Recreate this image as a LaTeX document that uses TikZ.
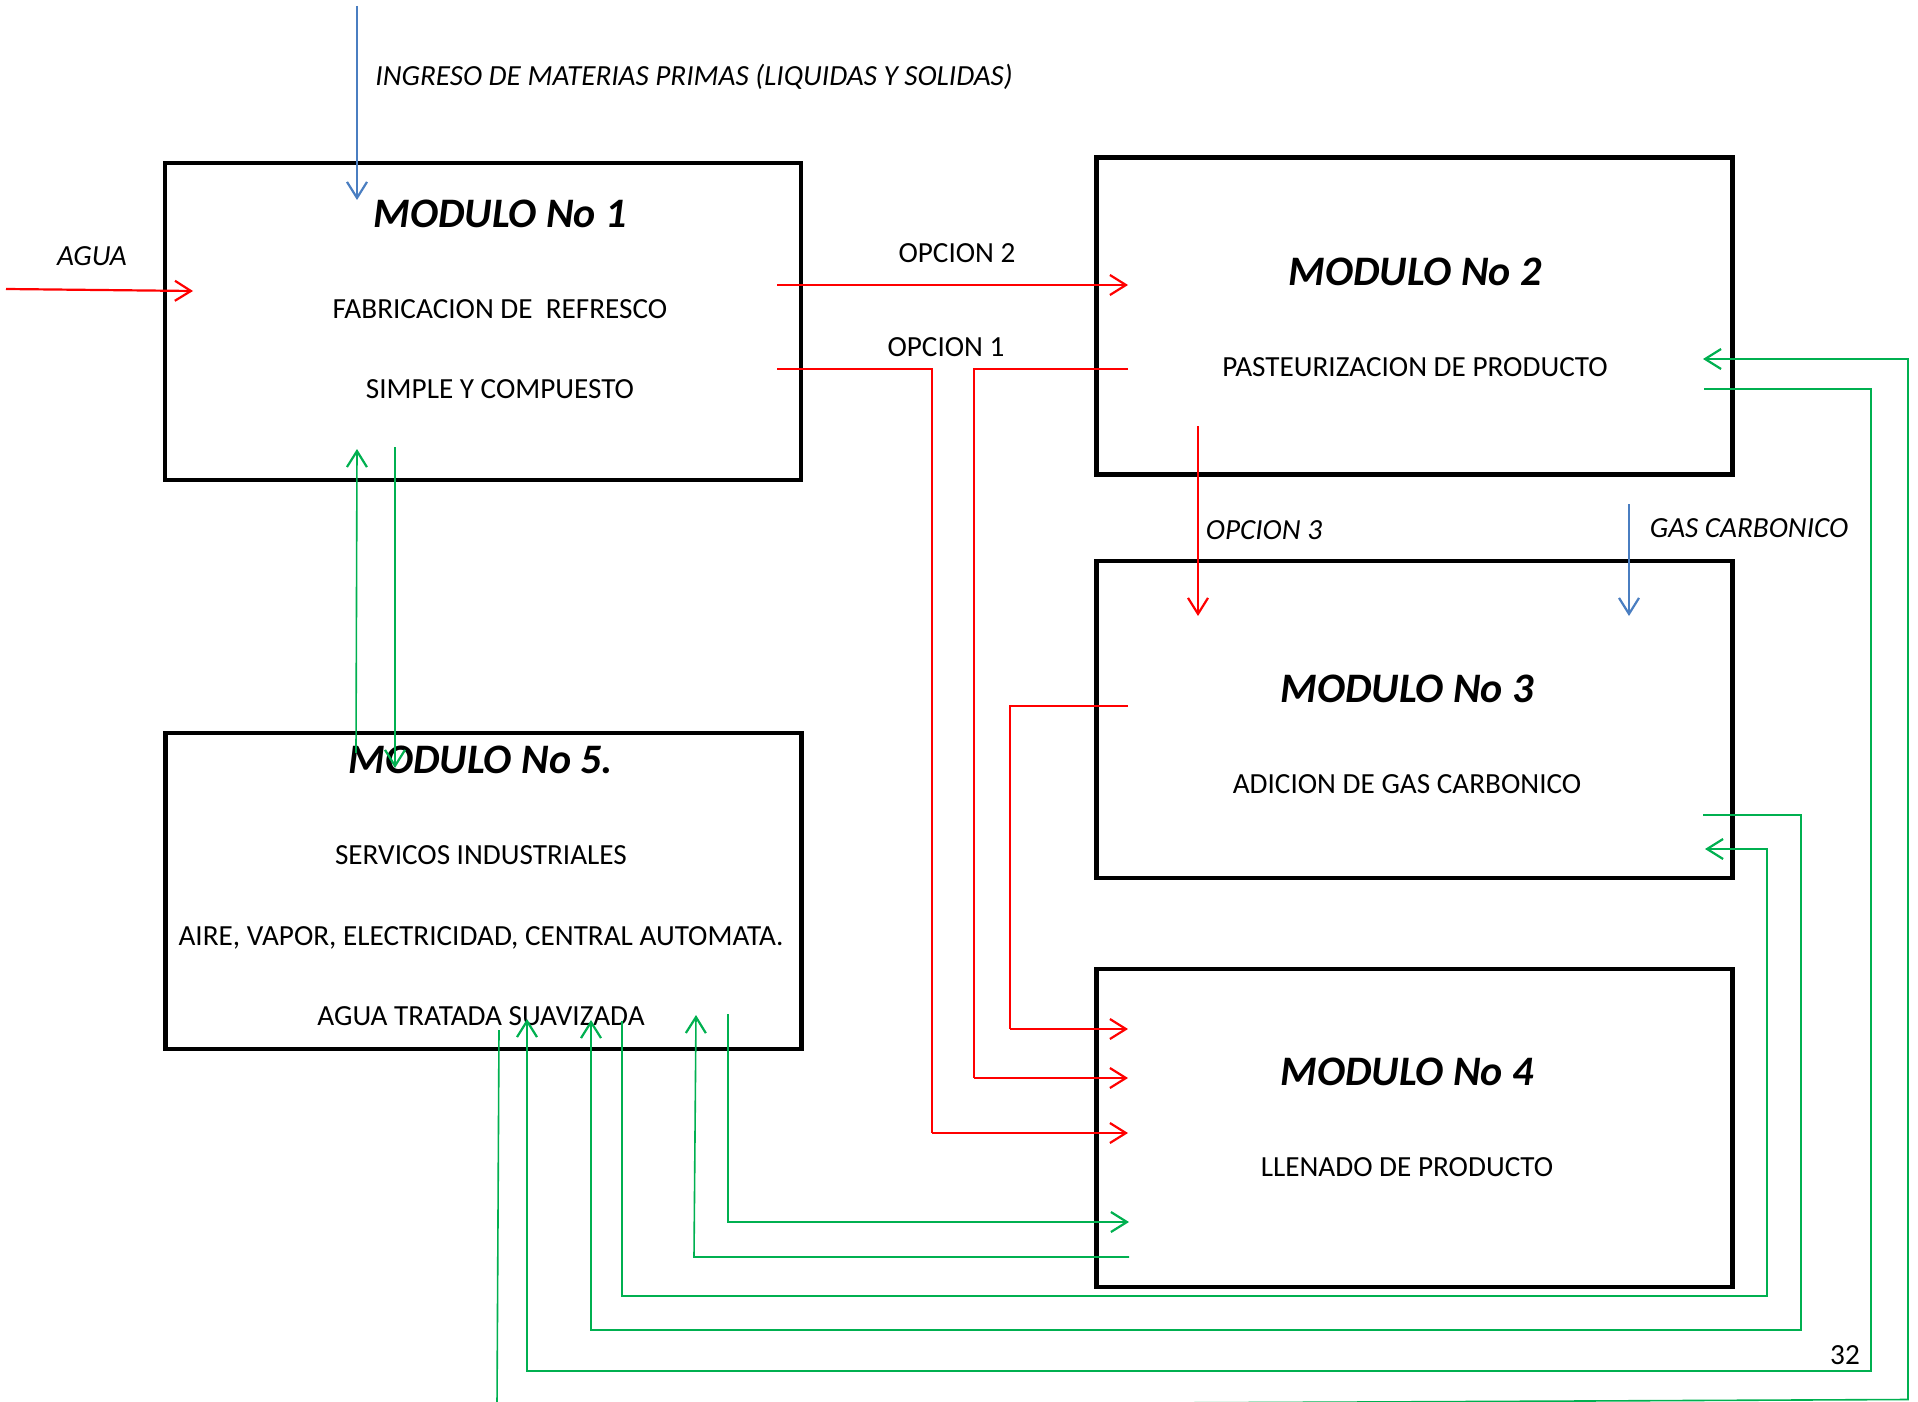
\documentclass[tikz,border=0pt]{standalone}
\usepackage{fontspec}
\setmainfont{Carlito}
\usetikzlibrary{arrows.meta}
\definecolor{myred}{RGB}{255,0,0}
\definecolor{mygreen}{RGB}{0,176,80}
\definecolor{myblue}{RGB}{74,126,193}
\begin{document}
\begin{tikzpicture}[x=0.5pt,y=-0.5pt,
  modbox/.style={draw=black, line width=2.1pt, inner sep=0pt, minimum width=318pt, minimum height=158.5pt},
  body/.style={font=\fontsize{14.6}{16}\selectfont, anchor=base, inner sep=0pt},
  ital/.style={font=\fontsize{14.6}{16}\selectfont\itshape, anchor=base, inner sep=0pt},
  ttl/.style={font=\fontsize{21}{24}\selectfont\bfseries\itshape, anchor=base, inner sep=0pt},
  tip/.style={-{Straight Barb[length=8pt,width=10pt,line width=1.1pt]}},
  redln/.style={draw=myred, line width=0.75pt},
  redar/.style={draw=myred, line width=1.1pt, tip},
  grnln/.style={draw=mygreen, line width=0.75pt},
  grnar/.style={draw=mygreen, line width=0.8pt, tip},
  bluar/.style={draw=myblue, line width=0.8pt, tip}]
\useasboundingbox[fill=white] (0,0) rectangle (1918,1402);

% boxes
\node[modbox] (m1) at (483,321.5) {};
\node[modbox] (m2) at (1414.5,316) {};
\node[modbox] (m3) at (1414.5,719.5) {};
\node[modbox, minimum height=159pt] (m4) at (1414.5,1128) {};
\node[modbox, minimum height=158pt] (m5) at (483.5,891) {};

% texts
\node[ital, anchor=base west] (ingreso) at (375,86) {INGRESO DE MATERIAS PRIMAS (LIQUIDAS Y SOLIDAS)};
\node[ital] (agua) at (92,265) {AGUA};
\node[ttl] (t1) at (500,227.5) {MODULO No 1};
\node[body] (b1a) at (500,318) {FABRICACION DE\ \ REFRESCO};
\node[body] (b1b) at (500,398) {SIMPLE Y COMPUESTO};
\node[body] (op2) at (957,263) {OPCION 2};
\node[body] (op1) at (946,356) {OPCION 1};
\node[ttl] (t2) at (1415,285.5) {MODULO No 2};
\node[body] (b2) at (1415,376) {PASTEURIZACION DE PRODUCTO};
\node[ital] (op3) at (1264,539) {OPCION 3};
\node[ital] (gas) at (1749,537) {GAS CARBONICO};
\node[ttl] (t3) at (1407,702.5) {MODULO No 3};
\node[body] (b3) at (1407,793) {ADICION DE GAS CARBONICO};
\node[ttl] (t4) at (1407,1085.5) {MODULO No 4};
\node[body] (b4) at (1407,1176) {LLENADO DE PRODUCTO};
\node[ttl] (t5) at (481,773.5) {MODULO No 5.};
\node[body] (b5a) at (481,864) {SERVICOS INDUSTRIALES};
\node[body] (b5b) at (481,945) {AIRE, VAPOR, ELECTRICIDAD, CENTRAL AUTOMATA.};
\node[body] (b5c) at (481,1025) {AGUA TRATADA SUAVIZADA};
\node[body] (pg) at (1845,1364) {32};

% coordinates
\coordinate (bi0) at (357,6);   \coordinate (bi1) at (357,200);
\coordinate (ag0) at (6,289);   \coordinate (ag1) at (193,291);
\coordinate (o2a) at (777,285); \coordinate (o2b) at (1128,285);
\coordinate (o1a) at (777,369); \coordinate (o1b) at (932,369); \coordinate (o1c) at (932,1133); \coordinate (o1d) at (1128,1133);
\coordinate (r2a) at (1128,369); \coordinate (r2b) at (974,369); \coordinate (r2c) at (974,1078); \coordinate (r2d) at (1128,1078);
\coordinate (r3a) at (1128,706); \coordinate (r3b) at (1010,706); \coordinate (r3c) at (1010,1029); \coordinate (r3d) at (1128,1029);
\coordinate (o3a) at (1198,426); \coordinate (o3b) at (1198,616);
\coordinate (gsa) at (1629,504); \coordinate (gsb) at (1629,616);
\coordinate (g1a) at (356,753); \coordinate (g1b) at (357,449);
\coordinate (g2a) at (395,447); \coordinate (g2b) at (395,768);
\coordinate (g3a) at (499,1030); \coordinate (g3b) at (497,1406); \coordinate (g3c) at (1908,1399.5); \coordinate (g3d) at (1908,359); \coordinate (g3e) at (1703,359);
\coordinate (g4a) at (1704,389); \coordinate (g4b) at (1871,389); \coordinate (g4c) at (1871,1371); \coordinate (g4d) at (527,1371); \coordinate (g4e) at (527,1019);
\coordinate (g5a) at (1703,815); \coordinate (g5b) at (1801,815); \coordinate (g5c) at (1801,1330); \coordinate (g5d) at (591,1330); \coordinate (g5e) at (591,1020);
\coordinate (g6a) at (622,1021); \coordinate (g6b) at (622,1296); \coordinate (g6c) at (1767,1296); \coordinate (g6d) at (1767,849); \coordinate (g6e) at (1705,849);
\coordinate (g7a) at (728,1014); \coordinate (g7b) at (728,1222); \coordinate (g7c) at (1129,1222);
\coordinate (g8a) at (1129,1257); \coordinate (g8b) at (694,1257); \coordinate (g8c) at (696,1015);

% blue
\draw[bluar] (bi0) -- (bi1);
\draw[bluar] (gsa) -- (gsb);
% red
\draw[redar] (ag0) -- (ag1);
\draw[redar] (o2a) -- (o2b);
\draw[redln] (o1a) -- (o1b) -- (o1c);
\draw[redar] (o1c) -- (o1d);
\draw[redln] (r2a) -- (r2b) -- (r2c);
\draw[redar] (r2c) -- (r2d);
\draw[redln] (r3a) -- (r3b) -- (r3c);
\draw[redar] (r3c) -- (r3d);
\draw[redln, tip] (o3a) -- (o3b);
% green
\draw[grnar] (g1a) -- (g1b);
\draw[grnar] (g2a) -- (g2b);
\draw[grnar] (g3a) -- (g3b) -- (g3c) -- (g3d) -- (g3e);
\draw[grnar] (g4a) -- (g4b) -- (g4c) -- (g4d) -- (g4e);
\draw[grnar] (g5a) -- (g5b) -- (g5c) -- (g5d) -- (g5e);
\draw[grnar] (g6a) -- (g6b) -- (g6c) -- (g6d) -- (g6e);
\draw[grnar] (g7a) -- (g7b) -- (g7c);
\draw[grnar] (g8a) -- (g8b) -- (g8c);
\end{tikzpicture}
\end{document}
